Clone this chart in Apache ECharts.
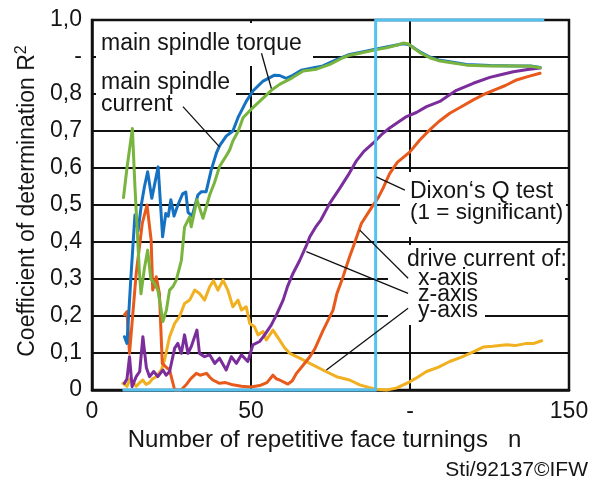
<!DOCTYPE html>
<html>
<head>
<meta charset="utf-8">
<script src="https://cdn.jsdelivr.net/npm/echarts@6/dist/echarts.min.js"></script>
<style>
html,body{margin:0;padding:0;background:#fff;}
#chart{width:592px;height:488px;}
</style>
</head>
<body>
<div id="chart"></div>
<script>
// ---- data (n, R^2) ----
const xTickLabels = ['0', '50', '-', '150'];
const yTickLabels = ['0', '0,1', '0,2', '0,3', '0,4', '0,5', '0,6', '0,7', '0,8', '-', '1,0'];

const torque = [[10.2,0.144],[11,0.126],[12.2,0.30],[13.5,0.473],[14.5,0.43],[15.5,0.50],[16.5,0.55],[17.5,0.59],[18.8,0.518],[20.8,0.603],[22.2,0.414],[23.2,0.477],[24,0.47],[24.8,0.514],[25.8,0.47],[27,0.50],[28.5,0.53],[29.5,0.535],[30.2,0.48],[31.5,0.47],[33.3,0.527],[34.4,0.536],[35.9,0.536],[37.5,0.595],[39.1,0.64],[40.1,0.66],[42.2,0.686],[44.3,0.70],[45.9,0.736],[48.5,0.78],[50.6,0.808],[53.8,0.835],[57.4,0.851],[59,0.85],[61.1,0.842],[63,0.85],[65.8,0.864],[69,0.87],[72.6,0.876],[76.9,0.893],[81,0.907],[84.2,0.912],[89.5,0.922],[92.6,0.927],[97.8,0.936],[99.5,0.934],[101,0.926],[103.1,0.914],[106.2,0.90],[109,0.892],[112.5,0.887],[117.8,0.88],[125.1,0.877],[133.5,0.876],[138,0.876],[140.9,0.872]];

const current = [[9.9,0.52],[11,0.60],[12.7,0.707],[13.5,0.55],[14.9,0.32],[15.4,0.26],[16.5,0.33],[17.5,0.378],[18.5,0.30],[19.5,0.29],[20.7,0.27],[21.5,0.23],[22.3,0.185],[23.4,0.216],[24.4,0.27],[25.5,0.28],[26.5,0.297],[27.5,0.33],[28.1,0.35],[29.1,0.44],[30.7,0.468],[31.2,0.441],[33,0.514],[34.9,0.464],[37,0.527],[38.5,0.56],[40.1,0.604],[42,0.63],[43.3,0.649],[44.3,0.673],[46,0.70],[47.5,0.736],[50.1,0.759],[52.7,0.78],[56.4,0.81],[59,0.826],[62.2,0.84],[66.4,0.862],[70.6,0.867],[74.8,0.88],[78.9,0.898],[81,0.905],[84.2,0.91],[89.5,0.92],[92.6,0.925],[96,0.932],[98,0.938],[99.5,0.935],[101,0.925],[103.1,0.912],[106.2,0.898],[109,0.89],[112.5,0.885],[117.8,0.878],[125.1,0.876],[133.5,0.876],[138,0.875],[140.9,0.871]];

const xAxisDrive = [[10.2,0.203],[11,0.212],[11.8,0.099],[12.3,0.10],[13.9,0.315],[15.8,0.45],[17.3,0.50],[18.6,0.405],[19.1,0.27],[20.2,0.306],[21.2,0.261],[22.1,0.072],[23.5,0.06],[24.4,0.054],[26,0.0],[28,0.0],[29.6,0.014],[31,0.03],[32.8,0.045],[34,0.04],[36,0.045],[37,0.035],[38,0.027],[40.1,0.018],[42,0.02],[44.3,0.014],[47,0.01],[50,0.008],[52.7,0.012],[55,0.02],[56.9,0.04],[58,0.03],[59,0.027],[61.6,0.016],[63,0.025],[64.3,0.045],[66,0.063],[68.5,0.09],[70,0.11],[72.6,0.16],[75.8,0.216],[77,0.26],[78.9,0.305],[81,0.36],[82.1,0.386],[84.7,0.45],[87.9,0.493],[90,0.52],[91.5,0.545],[93.6,0.585],[96,0.615],[99.9,0.643],[103,0.675],[106.2,0.703],[109,0.725],[112.5,0.748],[116,0.765],[119.9,0.784],[123.5,0.80],[127.2,0.813],[130,0.823],[133.5,0.838],[137,0.847],[140.9,0.856]];

const zAxisDrive = [[10.2,0.018],[11,0.03],[11.8,0.09],[12.6,0.009],[13.9,0.036],[15,0.05],[16,0.144],[17.1,0.06],[18.1,0.036],[19.4,0.05],[20.7,0.036],[22.3,0.054],[23.3,0.04],[24.4,0.05],[26,0.113],[27,0.126],[28.1,0.099],[29.1,0.149],[30.2,0.099],[31.2,0.117],[33,0.162],[33.8,0.099],[35.4,0.09],[37,0.095],[38.6,0.072],[40.1,0.086],[42.2,0.054],[43.8,0.09],[45.4,0.072],[47,0.095],[49,0.077],[50.6,0.122],[52.7,0.131],[54.3,0.149],[56.4,0.176],[58,0.203],[60.1,0.243],[61.5,0.28],[63.2,0.315],[65.3,0.35],[67.4,0.39],[68.5,0.414],[70.3,0.44],[72,0.46],[74.8,0.505],[77.9,0.545],[80.5,0.58],[83.2,0.62],[85.5,0.645],[88.4,0.667],[91,0.69],[93.6,0.708],[96,0.722],[98.9,0.739],[102,0.75],[105.2,0.766],[109.4,0.78],[112,0.795],[114.6,0.81],[119.9,0.829],[125.1,0.845],[128.5,0.852],[132.5,0.86],[137,0.866],[140.9,0.87]];

const yAxisDrive = [[9.7,0.018],[11,0.01],[12,0.03],[13.9,0.01],[15,0.02],[16,0.027],[17,0.015],[18.1,0.02],[19,0.03],[20.2,0.036],[21.8,0.054],[22.8,0.081],[24.4,0.144],[26,0.18],[27.5,0.198],[29.1,0.234],[30.7,0.243],[32.3,0.27],[33.8,0.261],[35.4,0.243],[37,0.279],[38.2,0.295],[39.6,0.27],[41.2,0.297],[42.7,0.27],[44.3,0.225],[45.9,0.243],[47,0.216],[48.5,0.225],[49.6,0.18],[51.1,0.171],[52.2,0.149],[53.8,0.158],[54.8,0.135],[56.9,0.162],[59,0.135],[60.5,0.115],[62.2,0.099],[65.3,0.086],[68.5,0.072],[72.6,0.054],[76.9,0.036],[81,0.027],[84.2,0.014],[87,0.007],[89.5,0.002],[92.6,0.0],[95.7,0.005],[99.9,0.022],[102.5,0.035],[105.2,0.05],[109,0.062],[112.5,0.077],[116,0.088],[119.9,0.103],[123,0.116],[126,0.118],[130.4,0.122],[133,0.12],[136.7,0.126],[139,0.126],[141.4,0.133]];

const dixon = [[10,0],[89.2,0],[89.2,1],[141.8,1]];

// ---- annotation leader lines (data space) ----
const leaders = [
  [[53.3,0.91],[56.4,0.815]],
  [[28.6,0.766],[40.1,0.657]],
  [[89.4,0.576],[98.4,0.54]],
  [[84.2,0.432],[99.4,0.302]],
  [[67.4,0.374],[99.4,0.261]],
  [[73.7,0.054],[99.4,0.221]]
];

const FONT = '"Liberation Sans", Arial, Helvetica, sans-serif';
const TXT = '#151515';

function curve(name, data, color) {
  return {
    name, type: 'line', data, z: 10, clip: false, silent: true,
    symbol: 'none', smooth: false,
    lineStyle: { color, width: 3, join: 'round', cap: 'round' }
  };
}

const series = [
  curve('y-axis', yAxisDrive, '#f0b020'),
  curve('x-axis', xAxisDrive, '#e85a1c'),
  curve('z-axis', zAxisDrive, '#7b2e9b'),
  curve('main spindle torque', torque, '#1572c2'),
  curve('main spindle current', current, '#78b43e'),
  curve('Dixon', dixon, '#55c1ef')
];
leaders.forEach((seg, i) => {
  series.push({
    name: 'leader' + i, type: 'line', data: seg, z: 11, clip: false, silent: true,
    symbol: 'none', lineStyle: { color: '#111', width: 1.3 }
  });
});

function box(x, y, w, h) {
  return { type: 'rect', shape: { x, y, width: w, height: h }, style: { fill: '#fff' }, z: 3, silent: true };
}
function label(text, x, y, size) {
  return { type: 'text', x, y, z: 4, silent: true,
    style: { text, fontSize: size || 23, fontFamily: FONT, fill: TXT, align: 'left', verticalAlign: 'middle' } };
}

const chart = echarts.init(document.getElementById('chart'), null, { renderer: 'canvas' });
chart.setOption({
  animation: false,
  backgroundColor: '#fff',
  grid: { left: 92, right: 23, top: 20, bottom: 98, show: true, borderColor: '#111', borderWidth: 2.5, backgroundColor: 'transparent' },
  xAxis: {
    type: 'value', min: 0, max: 150, interval: 50,
    name: 'Number of repetitive face turnings   n',
    nameLocation: 'middle', nameGap: 35,
    nameTextStyle: { fontSize: 24, fontFamily: FONT, color: TXT, padding: [0, 12, 0, 0] },
    axisLine: { show: true, lineStyle: { color: '#111', width: 2.5 } },
    axisTick: { show: false },
    axisLabel: { fontSize: 23, fontFamily: FONT, color: TXT, margin: 10,
      formatter: v => xTickLabels[Math.round(v / 50)] },
    splitLine: { show: true, lineStyle: { color: '#111', width: 2 } }
  },
  yAxis: {
    type: 'value', min: 0, max: 1, interval: 0.1,
    name: 'Coefficient of determination R{sup|2}',
    nameLocation: 'middle', nameGap: 50, nameRotate: 90,
    nameTextStyle: { fontSize: 23, fontFamily: FONT, color: TXT, padding: [0, 0, 0, 8],
      rich: { sup: { fontSize: 16, fontFamily: FONT, color: TXT, padding: [0, 0, 12, 0] } } },
    axisLine: { show: true, lineStyle: { color: '#111', width: 2.5 } },
    axisTick: { show: false },
    axisLabel: { fontSize: 23, fontFamily: FONT, color: TXT, margin: 10,
      formatter: v => yTickLabels[Math.round(v * 10)] },
    splitLine: { show: true, lineStyle: { color: '#111', width: 2 } }
  },
  graphic: [
    box(96, 23, 217, 43),
    box(96, 66, 140, 52),
    box(400, 172, 166, 65),
    box(388, 245, 177, 60),
    box(388, 305, 97, 20),
    label('main spindle torque', 101, 44),
    label('main spindle', 101, 83),
    label('current', 101, 105),
    label('Dixon\u2018s Q test', 410, 192),
    label('(1 = significant)', 410, 213, 22.5),
    label('drive current of:', 407, 260),
    label('x-axis', 418, 279),
    label('z-axis', 418, 295),
    label('y-axis', 418, 311),
    { type: 'text', x: 588, y: 470, z: 4, silent: true,
      style: { text: 'Sti/92137\u00A9IFW', fontSize: 21, fontFamily: FONT, fill: TXT, align: 'right', verticalAlign: 'middle' } }
  ],
  series
});
</script>
</body>
</html>
